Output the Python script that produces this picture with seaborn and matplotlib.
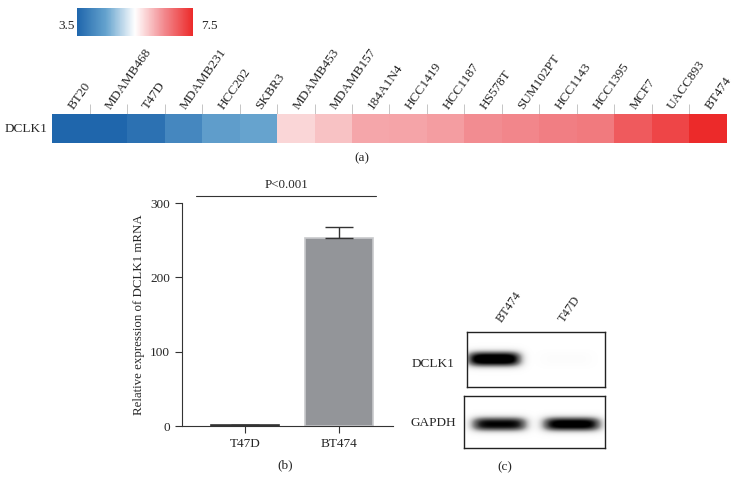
import numpy as np
import pandas as pd
import matplotlib
matplotlib.use("Agg")
import matplotlib.pyplot as plt
from matplotlib.colors import LinearSegmentedColormap
import seaborn as sns

# (a) DCLK1 expression across breast cell lines
cell_lines = ["BT20", "MDAMB468", "T47D", "MDAMB231", "HCC202", "SKBR3",
              "MDAMB453", "MDAMB157", "184A1N4", "HCC1419", "HCC1187", "HS578T",
              "SUM102PT", "HCC1143", "HCC1395", "MCF7", "UACC893", "BT474"]
dclk1_expr = [3.5, 3.5, 3.69, 4.06, 4.42, 4.5,
              5.85, 6.02, 6.26, 6.28, 6.34, 6.47,
              6.54, 6.61, 6.67, 6.99, 7.21, 7.5]

# (b) qPCR
qpcr_cells = ["T47D", "BT474"]
qpcr_mean = [1.0, 253.0]
qpcr_err = [0.5, 15.0]

# (c) western blot band intensities (BT474, T47D)
blot_lanes = ["BT474", "T47D"]
dclk1_band = [1.0, 0.02]
gapdh_band = [0.85, 0.92]

sns.set_style("white")
plt.rcParams["font.family"] = ["Liberation Serif", "DejaVu Serif"]

fig = plt.figure(figsize=(7.36, 4.93), dpi=100)

# ---- heatmap strip ----
cmap = LinearSegmentedColormap.from_list(
    "bwr_pub",
    [(0.0, "#1f66ac"), (0.25, "#65a3ce"), (0.5, "#ffffff"), (0.75, "#f28a8f"), (1.0, "#ec2a2a")])
ax_cb = fig.add_axes([0.1046, 0.927, 0.1576, 0.0568])
ax_hm = fig.add_axes([0.0707, 0.7099, 0.917, 0.0588])
hm = pd.DataFrame([dclk1_expr], columns=cell_lines, index=["DCLK1"])
sns.heatmap(hm, ax=ax_hm, cmap=cmap, vmin=3.5, vmax=7.5, cbar_ax=ax_cb,
            cbar_kws={"orientation": "horizontal"}, xticklabels=True, yticklabels=True)
ax_cb.set_xticks([])
ax_cb.tick_params(length=0)
for s in ax_cb.spines.values():
    s.set_visible(False)
fig.text(0.1019, 0.947, "3.5", ha="right", va="center", fontsize=9.5)
fig.text(0.273, 0.947, "7.5", ha="left", va="center", fontsize=9.5)

ax_hm.xaxis.tick_top()
ax_hm.set_xticks(np.arange(len(cell_lines)) + 0.5)
ax_hm.set_xticklabels(cell_lines, rotation=55, ha="left", va="center",
                      rotation_mode="anchor", fontsize=9.5)
ax_hm.set_xticks(np.arange(1, len(cell_lines)), minor=True)
ax_hm.tick_params(axis="x", which="major", length=0, pad=4, top=True, bottom=False)
ax_hm.tick_params(axis="x", which="minor", length=7, width=0.6, color="#bbbbbb", top=True, bottom=False)
ax_hm.set_yticklabels(["DCLK1"], rotation=0, fontsize=9.5)
ax_hm.tick_params(axis="y", length=0, pad=3)
ax_hm.set_xlabel("")
ax_hm.set_ylabel("")
fig.text(0.492, 0.679, "(a)", ha="center", va="center", fontsize=9.5)

# ---- bar chart ----
ax_b = fig.add_axes([0.2473, 0.1359, 0.2867, 0.4523])
bar_df = pd.DataFrame({"cell": qpcr_cells, "value": qpcr_mean})
sns.barplot(data=bar_df, x="cell", y="value", ax=ax_b, color="#939599",
            errorbar=None, width=0.72, saturation=1, edgecolor="#c8c9cc", linewidth=1.2)
ax_b.patches[0].set_edgecolor("#333333")
centers = [p.get_x() + p.get_width() / 2 for p in ax_b.patches]
ax_b.errorbar(centers, qpcr_mean, yerr=[[0, 0], qpcr_err], fmt="none",
              ecolor="#333333", elinewidth=1.0, capsize=10, capthick=1.0)
ax_b.set_xlim(-0.67, 1.57)
ax_b.set_ylim(0, 300)
ax_b.set_yticks([0, 100, 200, 300])
sns.despine(ax=ax_b)
for s in ["left", "bottom"]:
    ax_b.spines[s].set_color("#333333")
    ax_b.spines[s].set_linewidth(0.8)
ax_b.tick_params(axis="both", direction="out", length=5, width=0.8, color="#333333",
                 labelsize=9.5, left=True, bottom=True)
ax_b.set_xlabel("")
ax_b.set_ylabel("Relative expression of DCLK1 mRNA", fontsize=9.3)
ax_b.plot([-0.52, 1.39], [309, 309], color="#333333", lw=0.8, clip_on=False)
ax_b.text(0.435, 316, "P<0.001", ha="center", va="bottom", fontsize=9.3)
fig.text(0.387, 0.057, "(b)", ha="center", va="center", fontsize=9.5)


# ---- western blot ----
def blot_image(intens, centers, half_w, yc, sy, nx=280, ny=110):
    x = np.linspace(0, 1, nx)
    y = np.linspace(0, 1, ny)
    X, Y = np.meshgrid(x, y)
    img = np.zeros_like(X)
    for a, c, w in zip(intens, centers, half_w):
        img += a * np.exp(-np.abs((X - c) / w) ** 5) * np.exp(-np.abs((Y - yc) / sy) ** 2.5)
    return np.clip(img, 0, 1)


ax_w1 = fig.add_axes([0.6345, 0.215, 0.1875, 0.1116])
ax_w2 = fig.add_axes([0.6304, 0.0913, 0.1916, 0.1055])
img1 = blot_image(dclk1_band, [0.196, 0.72], [0.2, 0.2], 0.5, 0.14)
img2 = blot_image(gapdh_band, [0.248, 0.76], [0.2, 0.21], 0.55, 0.14)
for ax, img in [(ax_w1, img1), (ax_w2, img2)]:
    ax.imshow(img, cmap="Greys", vmin=0, vmax=0.85, aspect="auto", extent=[0, 1, 1, 0],
              interpolation="bilinear")
    ax.set_xticks([])
    ax.set_yticks([])
    for s in ax.spines.values():
        s.set_visible(True)
        s.set_color("#222222")
        s.set_linewidth(1.0)

fig.text(0.681, 0.345, blot_lanes[0], rotation=55, rotation_mode="anchor",
         ha="left", va="baseline", fontsize=9)
fig.text(0.766, 0.345, blot_lanes[1], rotation=55, rotation_mode="anchor",
         ha="left", va="baseline", fontsize=9)
fig.text(0.618, 0.262, "DCLK1", ha="right", va="center", fontsize=9.5)
fig.text(0.620, 0.142, "GAPDH", ha="right", va="center", fontsize=9.5)
fig.text(0.686, 0.053, "(c)", ha="center", va="center", fontsize=9.5)

fig.savefig("out.png", dpi=100)
